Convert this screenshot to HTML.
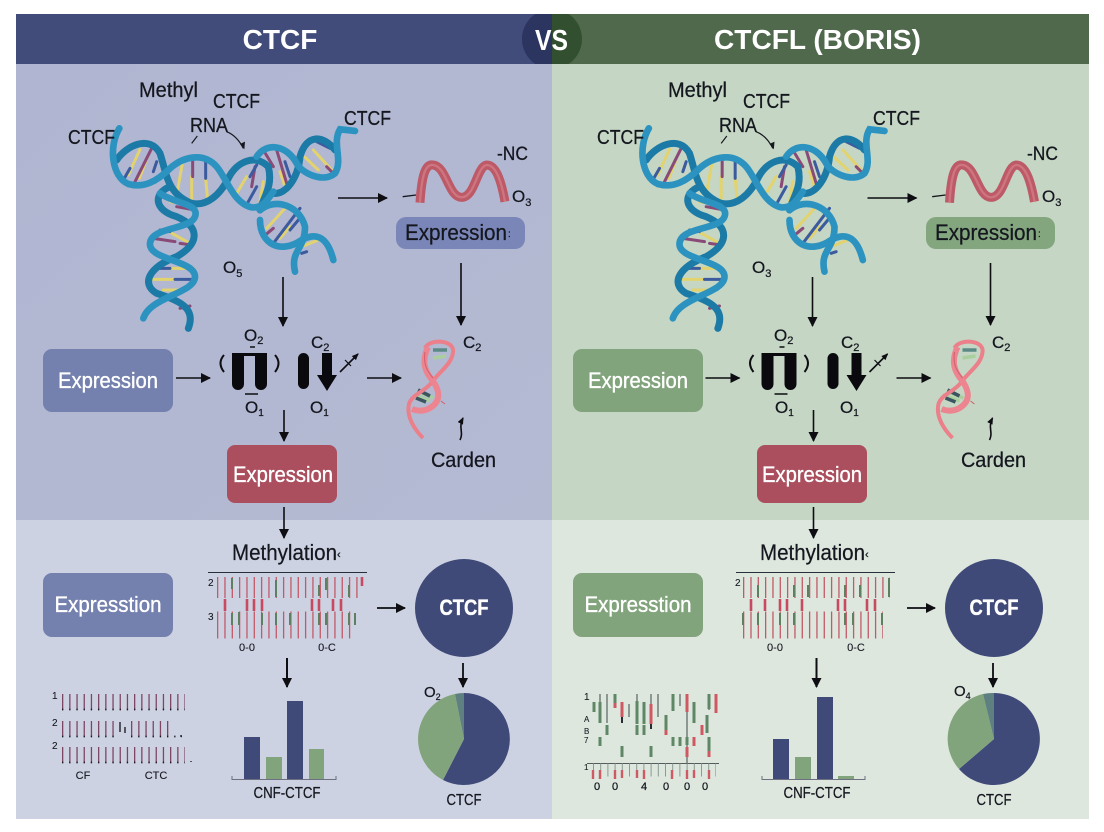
<!DOCTYPE html>
<html><head><meta charset="utf-8"><title>CTCF vs CTCFL (BORIS)</title>
<style>
html,body{margin:0;padding:0;background:#fff}
svg{display:block}
text{font-family:"Liberation Sans","DejaVu Sans",sans-serif;fill:#15171f;stroke:#15171f;stroke-width:.25}
.c{text-anchor:middle}
.w{fill:#fff;text-anchor:middle;stroke:#fff;stroke-width:.35}
.h{fill:#fff;text-anchor:middle;font-weight:bold;stroke:none}
.s{font-size:10px;stroke-width:.1}
</style></head><body>
<svg xmlns="http://www.w3.org/2000/svg" width="1104" height="832" viewBox="0 0 1104 832">
<defs>
<marker id="a" markerUnits="userSpaceOnUse" markerWidth="12" markerHeight="12" refX="9" refY="5" orient="auto"><path d="M0,0L10,5L0,10Z" fill="#0d0d12"/></marker>
<marker id="b" markerUnits="userSpaceOnUse" markerWidth="8" markerHeight="8" refX="6" refY="3" orient="auto"><path d="M0,0L7,3L0,6Z" fill="#0d0d12"/></marker>
<linearGradient id="lu" x1="0" y1="0" x2="1" y2="1"><stop offset="0" stop-color="#b0b6d1"/><stop offset="1" stop-color="#b5bad3"/></linearGradient>
<clipPath id="hc"><rect x="16" y="14" width="1073" height="50"/></clipPath>
<g id="helix" fill="none" stroke-linecap="round">
 <g transform="translate(60,70) scale(.33333)">
  <g stroke-width="9">
   <path stroke="#e2d36e" d="M240,238L205,315M262,262L238,325M367,280L352,365M395,320V385M437,325L442,380M560,320L530,370M610,335L600,395M660,305L680,365M760,240L815,300M735,262L775,300M680,410L620,475M690,470L660,505M330,395L385,405M335,490L390,520M320,595L400,595M270,628L345,628M310,660L360,660M725,530L775,510"/>
   <path stroke="#8a4a78" d="M275,235L225,335M398,268V320M585,290L575,350M610,240L640,290M650,240L680,340M800,290L825,315M350,410L405,420M280,505L345,515M360,520L395,525M360,715L390,708M610,500L640,475"/>
   <path stroke="#3b5b9e" d="M290,275L280,305M210,295L190,330M437,270V325M590,285L570,320M590,350L565,395M675,275L690,320M770,215L810,235M720,415L640,520M715,450L690,480M300,480L330,485M295,595H330M345,628H395M725,550L740,545"/>
  </g>
  <g stroke="#1c7aa6" stroke-width="21">
   <path d="M170,270C200,225 270,195 300,250C320,310 320,370 395,400C440,410 480,375 505,325C530,275 585,250 625,290C640,350 610,380 600,420"/>
   <path d="M330,350C280,370 280,420 350,440C420,470 420,520 350,560C270,590 240,640 290,670C350,690 410,710 385,775"/>
   <path d="M640,370C680,375 715,320 720,260C740,190 790,195 825,240"/>
  </g>
  <g stroke="#2c93c0" stroke-width="20">
   <path d="M178,175C145,230 155,320 205,342C250,355 290,335 330,295C370,260 430,245 470,290C500,325 520,400 575,412C610,415 625,385 640,365"/>
   <path d="M300,370C340,400 420,400 405,440C390,480 275,470 270,520C265,570 405,570 405,620C405,670 270,680 250,745"/>
   <path d="M590,260C620,215 680,225 710,280C725,310 790,340 825,310C850,270 815,220 840,178L885,183"/>
   <path d="M600,450C600,520 660,555 725,510C760,490 800,490 820,570"/>
   <path d="M600,420C650,380 720,410 735,470C735,540 690,540 705,605"/>
  </g>
 </g>
</g>
<g id="top">
 <use href="#helix"/>
 <g transform="translate(60,70) scale(.33333)" fill="none">
  <path d="M1080,398C1085,320 1095,280 1120,285C1160,290 1165,382 1205,382C1245,382 1250,290 1280,285C1310,285 1325,340 1335,395" stroke="#bd5a68" stroke-width="27"/>
  <path d="M1080,398C1085,320 1095,280 1120,285C1160,290 1165,382 1205,382C1245,382 1250,290 1280,285C1310,285 1325,340 1335,395" stroke="#cf757f" stroke-width="7"/>
  <path d="M1028,380L1068,375" stroke="#15171f" stroke-width="4"/>
  <path d="M395,220L412,198M500,185C525,195 540,215 550,235" stroke="#15171f" stroke-width="3.5"/>
  <path d="M540,222L553,238L555,215Z" fill="#15171f"/>
 </g>
 <g fill="none" stroke="#0d0d12" stroke-width="1.600">
  <path d="M338,198H387" marker-end="url(#a)"/>
  <path d="M461,263V325" marker-end="url(#a)"/>
  <path d="M283,277V326" marker-end="url(#a)"/>
  <path d="M176,378H210" marker-end="url(#a)"/>
  <path d="M367,378H401" marker-end="url(#a)"/>
  <path d="M284,410V441" marker-end="url(#a)"/>
  <path d="M284,507V538" marker-end="url(#a)"/>
  <path d="M340,372L358,354" marker-end="url(#b)"/>
  <path d="M345,360L351,366" stroke-width="1.200"/>
  <path d="M460,440C464,432 458,428 463,418" marker-end="url(#b)"/>
  <path d="M224,355Q217,363 224,372M275,355Q282,363 275,372" stroke-width="2"/>
  <path d="M245,394H258M250,347H255" stroke-width="1.400"/>
  <path d="M287,658V687" stroke-width="2" marker-end="url(#a)"/>
 </g>
 <path d="M232,353H267V384A5.500,5.500 0 0 1 255,384V356H244V384A5.500,5.500 0 0 1 232,384Z" fill="#0a0a0e"/>
 <rect x="298" y="353" width="11" height="36" rx="5.500" fill="#0a0a0e"/>
 <path d="M322,353H332V375H337L327,391L317,375H322Z" fill="#0a0a0e"/>
 <g fill="none">
  <g stroke-width="3.500">
   <path stroke="#5b8a86" d="M433,350L447,350"/>
   <path stroke="#a9cf9f" d="M433,358L446,356M413,395L430,401M418,392L434,398"/>
   <path stroke="#3b5560" d="M418,390L430,396M416,398L426,402"/>
  </g>
  <path d="M425,348C430,338 455,340 453,352C452,364 440,371 432,382C425,392 412,394 409,404C406,417 415,430 423,438" stroke="#eb7f8a" stroke-width="4"/>
  <path d="M428,347C421,362 425,372 433,381C441,393 440,402 430,408C423,412 417,411 412,409" stroke="#ec8590" stroke-width="6"/>
  <path d="M425,352C423,365 428,372 433,378M441,401L445,404" stroke="#cf5f6c" stroke-width="1"/>
 </g>
</g>
</defs>

<!-- panels -->
<rect x="16" y="64" width="536" height="456" fill="url(#lu)"/>
<rect x="552" y="64" width="537" height="456" fill="#c5d6c4"/>
<rect x="16" y="520" width="536" height="299" fill="#cdd2e2"/>
<rect x="552" y="520" width="537" height="299" fill="#dde7de"/>
<rect x="16" y="14" width="536" height="50" fill="#414c7a"/>
<rect x="552" y="14" width="537" height="50" fill="#50694c"/>
<g clip-path="url(#hc)">
<path d="M552,9A30,30 0 0 0 552,69Z" fill="#2c3460"/>
<path d="M552,9A30,30 0 0 1 552,69Z" fill="#32502f"/>
</g>
<text class="h" x="280" y="49" font-size="28">CTCF</text>
<text class="h" x="817.500" y="49" font-size="28" textLength="207" lengthAdjust="spacingAndGlyphs">CTCFL (BORIS)</text>
<text class="h" x="551.500" y="50" font-size="29" textLength="33" lengthAdjust="spacingAndGlyphs">VS</text>

<!-- top shapes -->
<use href="#top"/>
<use href="#top" x="529.500"/>

<!-- left boxes -->
<rect x="43" y="349" width="130" height="63" rx="9" fill="#7480ad"/>
<rect x="227" y="445" width="110" height="58" rx="8" fill="#ab4f5e"/>
<rect x="396" y="217" width="129" height="32" rx="10" fill="#7b86b8"/>
<rect x="43" y="573" width="130" height="64" rx="9" fill="#7480ad"/>
<circle cx="464" cy="608" r="49" fill="#3f4a78"/>
<!-- right boxes -->
<rect x="573" y="349" width="130" height="63" rx="9" fill="#82a47c"/>
<rect x="757" y="445" width="110" height="58" rx="8" fill="#ab4f5e"/>
<rect x="926" y="217" width="129" height="32" rx="10" fill="#83a67e"/>
<rect x="573" y="573" width="130" height="64" rx="9" fill="#82a47c"/>
<circle cx="994" cy="608" r="49" fill="#3f4a78"/>

<!-- left top labels -->
<g font-size="20">
<text x="139" y="97" font-size="21" textLength="59" lengthAdjust="spacingAndGlyphs">Methyl</text>
<text x="213" y="108" textLength="47" lengthAdjust="spacingAndGlyphs">CTCF</text>
<text x="190" y="132" textLength="38" lengthAdjust="spacingAndGlyphs">RNA</text>
<text x="68" y="144" textLength="47" lengthAdjust="spacingAndGlyphs">CTCF</text>
<text x="344" y="125" textLength="47" lengthAdjust="spacingAndGlyphs">CTCF</text>
<text x="497" y="160" font-size="19" textLength="31" lengthAdjust="spacingAndGlyphs">-NC</text>
<text x="512" y="202" font-size="17">O<tspan font-size="11" dy="4">3</tspan></text>
<text x="223" y="273" font-size="17">O<tspan font-size="11" dy="4">5</tspan></text>
<text x="244" y="341" font-size="17">O<tspan font-size="11" dy="3">2</tspan></text>
<text x="311" y="348" font-size="17">C<tspan font-size="11" dy="3">2</tspan></text>
<text x="245" y="413" font-size="17">O<tspan font-size="10" dy="3">1</tspan></text>
<text x="310" y="413" font-size="17">O<tspan font-size="10" dy="3">1</tspan></text>
<text x="463" y="348" font-size="17">C<tspan font-size="11" dy="3">2</tspan></text>
<text class="c" x="463.500" y="467" font-size="21" textLength="65" lengthAdjust="spacingAndGlyphs">Carden</text>
<text x="405" y="240" font-size="22" textLength="102" lengthAdjust="spacingAndGlyphs">Expression</text>
<text x="508" y="237" font-size="10">:</text>
<text class="w" x="108" y="388" font-size="22" textLength="100" lengthAdjust="spacingAndGlyphs">Expression</text>
<text class="w" x="283" y="482" font-size="22" textLength="100" lengthAdjust="spacingAndGlyphs">Expression</text>
<text class="w" x="108" y="612" font-size="22" textLength="107" lengthAdjust="spacingAndGlyphs">Expresstion</text>
<text x="232" y="560" font-size="22" textLength="105" lengthAdjust="spacingAndGlyphs">Methylation</text>
<text x="337" y="558" font-size="11">‹</text>
<text class="w" x="464" y="615" font-size="22" font-weight="bold" textLength="49" lengthAdjust="spacingAndGlyphs">CTCF</text>
<text class="c" x="287" y="798" font-size="16" textLength="67" lengthAdjust="spacingAndGlyphs">CNF-CTCF</text>
<text class="c" x="464" y="805" font-size="16" textLength="35" lengthAdjust="spacingAndGlyphs">CTCF</text>
<text x="424" y="697" font-size="15">O<tspan font-size="9" dy="3">2</tspan></text>
</g>
<!-- right top labels -->
<g font-size="20">
<text x="668" y="97" font-size="21" textLength="59" lengthAdjust="spacingAndGlyphs">Methyl</text>
<text x="743" y="108" textLength="47" lengthAdjust="spacingAndGlyphs">CTCF</text>
<text x="719" y="132" textLength="38" lengthAdjust="spacingAndGlyphs">RNA</text>
<text x="597" y="144" textLength="47" lengthAdjust="spacingAndGlyphs">CTCF</text>
<text x="873" y="125" textLength="47" lengthAdjust="spacingAndGlyphs">CTCF</text>
<text x="1027" y="160" font-size="19" textLength="31" lengthAdjust="spacingAndGlyphs">-NC</text>
<text x="1042" y="202" font-size="17">O<tspan font-size="11" dy="4">3</tspan></text>
<text x="752" y="273" font-size="17">O<tspan font-size="11" dy="4">3</tspan></text>
<text x="774" y="341" font-size="17">O<tspan font-size="11" dy="3">2</tspan></text>
<text x="841" y="348" font-size="17">C<tspan font-size="11" dy="3">2</tspan></text>
<text x="775" y="413" font-size="17">O<tspan font-size="10" dy="3">1</tspan></text>
<text x="840" y="413" font-size="17">O<tspan font-size="10" dy="3">1</tspan></text>
<text x="992" y="348" font-size="17">C<tspan font-size="11" dy="3">2</tspan></text>
<text class="c" x="993.500" y="467" font-size="21" textLength="65" lengthAdjust="spacingAndGlyphs">Carden</text>
<text x="935" y="240" font-size="22" textLength="102" lengthAdjust="spacingAndGlyphs">Expression</text>
<text x="1038" y="237" font-size="10">:</text>
<text class="w" x="638" y="388" font-size="22" textLength="100" lengthAdjust="spacingAndGlyphs">Expression</text>
<text class="w" x="812" y="482" font-size="22" textLength="100" lengthAdjust="spacingAndGlyphs">Expression</text>
<text class="w" x="638" y="612" font-size="22" textLength="107" lengthAdjust="spacingAndGlyphs">Expresstion</text>
<text x="760" y="560" font-size="22" textLength="105" lengthAdjust="spacingAndGlyphs">Methylation</text>
<text x="865" y="558" font-size="11">‹</text>
<text class="w" x="994" y="615" font-size="22" font-weight="bold" textLength="49" lengthAdjust="spacingAndGlyphs">CTCF</text>
<text class="c" x="817" y="798" font-size="16" textLength="67" lengthAdjust="spacingAndGlyphs">CNF-CTCF</text>
<text class="c" x="994" y="805" font-size="16" textLength="35" lengthAdjust="spacingAndGlyphs">CTCF</text>
<text x="954" y="696" font-size="15">O<tspan font-size="9" dy="3">4</tspan></text>
</g>

<!-- left methylation heat -->
<path d="M208,572.500H367" stroke="#2a2d3a" stroke-width="1"/>
<g fill="none">
 <path d="M217,587.500H363" stroke="#c25a68" stroke-width="21" stroke-dasharray="1.300 6.030"/>
 <path d="M217,625H355" stroke="#c25a68" stroke-width="27" stroke-dasharray="1.300 6.030"/>
 <path stroke="#5e7f60" stroke-width="2" d="M232,578V589M276,580V597M319,585V596M326,578V590M349,585V597M232,613V625M239,612V625M262,613V625M276,613V625M290,613V625M319,613V625M326,613V625M349,613V625M355,613V625"/>
 <path stroke="#c84a60" stroke-width="2.600" d="M225,599V611M247,599V611M254,599V611M262,599V611M312,599V611M319,599V611M333,599V611M341,599V611"/>
 <path stroke="#c84a60" stroke-width="2.600" d="M362,577V586"/>
</g>
<text class="s" x="208" y="586" font-size="9">2</text>
<text class="s" x="208" y="620">3</text>
<text class="c s" x="247" y="651" style="font-size:11px">0-0</text>
<text class="c s" x="327" y="651" style="font-size:11px">0-C</text>

<!-- right methylation heat -->
<path d="M736,572.500H895" stroke="#2a2d3a" stroke-width="1"/>
<g fill="none">
 <path d="M743,587.500H890" stroke="#c25a68" stroke-width="21" stroke-dasharray="1.300 6.030"/>
 <path d="M743,625H883" stroke="#c25a68" stroke-width="27" stroke-dasharray="1.300 6.030"/>
 <path stroke="#5e7f60" stroke-width="2" d="M758,585V597M794,585V597M808,585V597M845,585V597M860,585V597M889,578V597M743,613V625M758,613V625M780,613V625M794,613V625M845,613V625M853,613V625M882,613V625"/>
 <path stroke="#c84a60" stroke-width="2.600" d="M751,599V611M765,599V611M780,599V611M787,599V611M802,599V611M838,599V611M845,599V611M867,599V611M875,599V611"/>
</g>
<text class="s" x="735" y="586">2</text>
<text class="c s" x="775" y="651" style="font-size:11px">0-0</text>
<text class="c s" x="856" y="651" style="font-size:11px">0-C</text>

<!-- left ticks chart -->
<g fill="none">
 <path d="M62,702H185" stroke="#7d4764" stroke-width="16" stroke-dasharray="1.300 5.900"/>
 <path d="M62,729H115M131,729H170" stroke="#7d4764" stroke-width="16" stroke-dasharray="1.300 5.900"/>
 <path d="M62,755H185" stroke="#7d4764" stroke-width="16" stroke-dasharray="1.300 5.900"/>
 <path d="M62,709.500H185M62,736.500H115M131,736.500H182M62,762.500H185" stroke="#1a1a22" stroke-width="1.800" stroke-dasharray="1.300 5.900"/>
 <path d="M120,722V732M125,727V733M181,735V737M191,761V762" stroke="#2b2b35" stroke-width="1.500"/>
</g>
<text class="s" x="52" y="699" font-size="8">1</text>
<text class="s" x="52" y="726" font-size="8">2</text>
<text class="s" x="52" y="749" font-size="8">2</text>
<text class="c s" x="83" y="779" style="font-size:11px">CF</text>
<text class="c s" x="156" y="779" style="font-size:11px">CTC</text>

<!-- right candle chart -->
<g fill="none">
 <path d="M587,763.500H719" stroke="#555b5c" stroke-width="1"/>
 <path d="M593,770H716" stroke="#8a9a94" stroke-width="13" stroke-dasharray="1 6.200"/>
 <path stroke="#cf5a64" stroke-width="2.400" d="M593,770V779M600,770V779M615,770V779M622,770V778M637,770V778M644,770V779M672,770V779M687,770V779M694,770V778M709,770V779"/>
 <path stroke="#3f4a45" stroke-width="1" d="M600,694V712M607,694V723M629,704V717M637,694V724M651,694V724M658,694V717M680,694V706M687,694V763M709,694V710"/>
 <path stroke="#5f8766" stroke-width="3" d="M594,702V712M600,702V723M615,694V703M637,701V724M644,702V724M666,715V730M673,694V711M694,702V723M709,694V709M707,715V733M637,725V735M644,725V735M607,725V735M600,737V746M622,746V757M651,746V757M673,737V746M680,737V746M687,737V745M709,737V751"/>
 <path stroke="#d05862" stroke-width="3" d="M615,703V708M622,702V717M651,704V724M666,730V735M687,694V712M694,737V746M702,725V735M709,751V757M716,694V713M687,747V757M702,730V735"/>
 <path stroke="#15171f" stroke-width="1.800" d="M622,717V723M651,724V729"/>
</g>
<text x="584" y="700" font-size="8" class="s">1</text>
<text x="584" y="722" font-size="8" class="s" style="font-size:8px">A</text>
<text x="584" y="734" font-size="8" class="s" style="font-size:8px">B</text>
<text x="584" y="743" font-size="8" class="s" style="font-size:8px">7</text>
<text x="584" y="770" font-size="8" class="s" style="font-size:8px">1</text>
<g font-size="11"><text class="c" x="597" y="790">0</text><text class="c" x="615" y="790">0</text><text class="c" x="644" y="790">4</text><text class="c" x="666" y="790">0</text><text class="c" x="687" y="790">0</text><text class="c" x="705" y="790">0</text></g>

<!-- left bars -->
<rect x="244" y="737" width="16" height="43" fill="#3f4a78"/>
<rect x="266" y="757" width="16" height="23" fill="#82a47c"/>
<rect x="287" y="701" width="16" height="79" fill="#3f4a78"/>
<rect x="309" y="749" width="15" height="31" fill="#82a47c"/>
<path d="M232,776V779.500H336V776" fill="none" stroke="#6e6f80" stroke-width="1"/>
<!-- right bars -->
<rect x="773" y="739" width="16" height="41" fill="#3f4a78"/>
<rect x="795" y="757" width="16" height="23" fill="#82a47c"/>
<rect x="817" y="697" width="16" height="83" fill="#3f4a78"/>
<rect x="838" y="776" width="16" height="4" fill="#82a47c"/>
<path d="M762,776V779.500H865V776" fill="none" stroke="#6e6f80" stroke-width="1"/>

<!-- pies -->
<path d="M464,739V693A46,46 0 1 1 443,780Z" fill="#3f4a78"/>
<path d="M464,739L443,780A46,46 0 0 1 455,694Z" fill="#82a47c"/>
<path d="M464,739L455,694A46,46 0 0 1 464,693Z" fill="#5f8080"/>
<path d="M994,739V693A46,46 0 1 1 959,769Z" fill="#3f4a78"/>
<path d="M994,739L959,769A46,46 0 0 1 983,694Z" fill="#82a47c"/>
<path d="M994,739L983,694A46,46 0 0 1 994,693Z" fill="#5f8080"/>

<!-- lower arrows -->
<g fill="none" stroke="#0d0d12" stroke-width="1.800">
 <path d="M377,608H405" marker-end="url(#a)"/>
 <path d="M463,663V687" marker-end="url(#a)"/>
 <path d="M907,608H935" marker-end="url(#a)"/>
 <path d="M993,663V687" marker-end="url(#a)"/>
</g>
</svg>
</body></html>
